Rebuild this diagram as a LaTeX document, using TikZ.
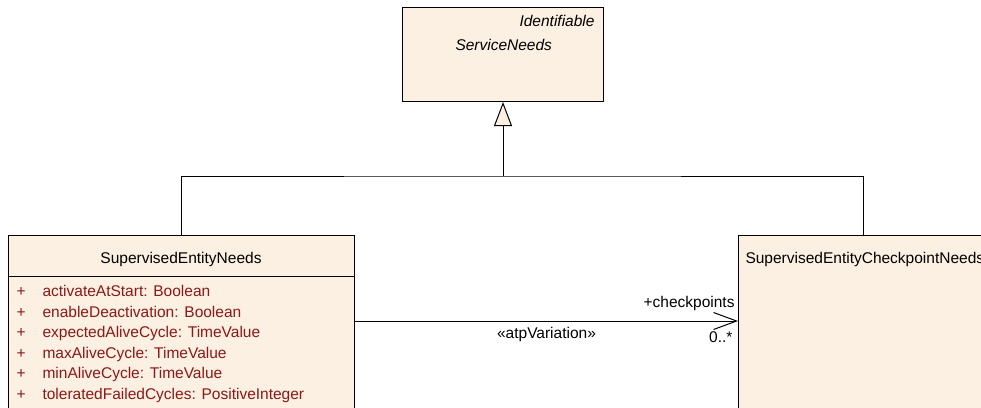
\documentclass[tikz,border=0pt]{standalone}
\usepackage{fontspec}
\setmainfont{Liberation Sans}
\usetikzlibrary{positioning, arrows.meta}

\definecolor{boxfill}{RGB}{251,240,226}
\definecolor{attrred}{RGB}{140,24,24}

\begin{document}
\begin{tikzpicture}[x=1pt, y=-1pt, line width=1pt, node distance=0pt,
    classbox/.style={draw, rectangle, fill=boxfill, inner sep=0pt},
    classname/.style={inner sep=0pt, font=\fontsize{15.5}{18}\selectfont},
    attr/.style={inner sep=0pt, text height=14.5pt, text depth=5pt, text=attrred,
        font=\fontsize{15.5}{18}\selectfont, anchor=north west},
    lbl/.style={inner sep=0pt, font=\fontsize{15.5}{18}\selectfont}]
    \useasboundingbox (0,0) rectangle (981,407);
    \clip (0,0) rectangle (981,407);

    % classes
    \node[classbox, minimum width=201pt, minimum height=94pt, anchor=north west] (service) at (402,7) {};
    \node[classbox, minimum width=346pt, minimum height=190pt, anchor=north west] (entity) at (8,235) {};
    \node[classbox, minimum width=250pt, minimum height=190pt, anchor=north west] (checkpoint) at (738,235) {};

    \node[classname, anchor=base east, font=\fontsize{15.5}{18}\selectfont\itshape] (stereo) at (595,26) {Identifiable};
    \node[classname, anchor=base west, font=\fontsize{15.5}{18}\selectfont\itshape] (servicetitle) at (455,50) {ServiceNeeds};
    \node[classname, anchor=base] (entitytitle) at (181,263) {SupervisedEntityNeeds};
    \node[classname, anchor=base west] (checkpointtitle) at (745,263) {SupervisedEntityCheckpointNeeds};
    \draw (entity.west |- 0,276) -- (entity.east |- 0,276);

    % attributes
    \node[attr] (a1) at (16,281.5) {+\hspace{17pt}activateAtStart: Boolean};
    \node[attr] (a2) at (a1.south west) {+\hspace{17pt}enableDeactivation: Boolean};
    \node[attr] (a3) at (a2.south west) {+\hspace{17pt}expectedAliveCycle: TimeValue};
    \node[attr] (a4) at (a3.south west) {+\hspace{17pt}maxAliveCycle: TimeValue};
    \node[attr] (a5) at (a4.south west) {+\hspace{17pt}minAliveCycle: TimeValue};
    \node[attr] (a6) at (a5.south west) {+\hspace{17pt}toleratedFailedCycles: PositiveInteger};

    % generalization
    \coordinate (join) at (service.south |- 0,176);
    \draw (entity.north) |- (join) -| (checkpoint.north);
    \draw[-{Triangle[open, length=24pt, width=18pt, fill=boxfill]}] (join) -- (service.south);

    % association
    \draw[-{Straight Barb[length=23pt, width=17pt]}] (entity.east |- 0,321) -- (checkpoint.west |- 0,321)
        node[lbl, pos=1, anchor=base east, xshift=-3pt, yshift=14pt] (role) {+checkpoints}
        node[lbl, pos=1, anchor=base east, xshift=-5pt, yshift=-21.7pt] (mult) {0..*}
        node[lbl, midway, anchor=base, yshift=-17.3pt] (variation) {«atpVariation»};
\end{tikzpicture}
\end{document}
